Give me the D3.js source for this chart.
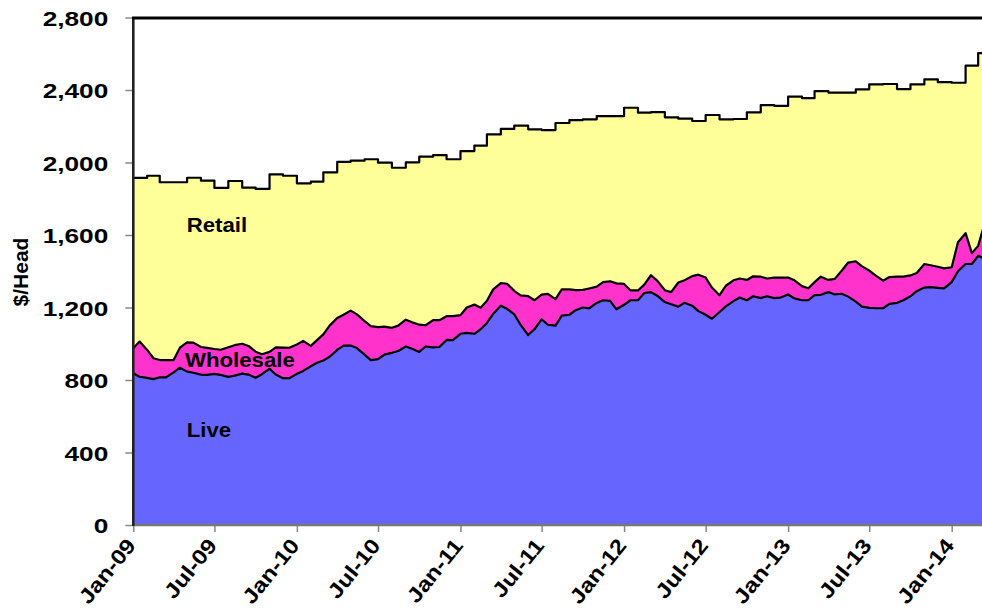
<!DOCTYPE html>
<html>
<head>
<meta charset="utf-8">
<script src="https://cdn.jsdelivr.net/npm/d3@7"></script>
<style>
  body { margin: 0; background: #ffffff; }
  svg { display: block; }
  text { font-family: "Liberation Sans", Arial, Helvetica, sans-serif; font-weight: bold; fill: #000; }
</style>
</head>
<body>
<svg id="chart" width="982" height="610"></svg>
<script>
// Beef value per head, $/head: live animal, wholesale and retail equivalents.
// Live and wholesale are sampled on the 1st and 15th of each month, Jan 2009 - Mar 2014.
const seriesNames = ["Retail", "Wholesale", "Live"];

const liveValues = [
  837, 818, 812, 805, 815, 815, 842, 868, 846, 840, 830, 828, 834, 828, 817, 824, 835, 830, 812, 832, 862, 830, 810, 810,
  834, 850, 876, 895, 908, 928, 966, 990, 990, 976, 940, 910, 915, 940, 950, 960, 985, 972, 955, 985, 980, 982, 1021, 1020,
  1055, 1060, 1055, 1080, 1115, 1165, 1210, 1193, 1162, 1105, 1048, 1080, 1135, 1105, 1100, 1155, 1160, 1185, 1200, 1195, 1225, 1240, 1237, 1190,
  1215, 1240, 1240, 1280, 1285, 1265, 1230, 1218, 1205, 1226, 1210, 1180, 1160, 1138, 1175, 1206, 1235, 1255, 1240, 1262, 1252, 1262, 1252, 1255,
  1272, 1250, 1240, 1240, 1268, 1270, 1285, 1272, 1276, 1260, 1232, 1205, 1198, 1196, 1196, 1220, 1226, 1240, 1262, 1290, 1310, 1312, 1308, 1305,
  1340, 1400, 1440, 1440, 1485, 1470
];

const wholesaleValues = [
  975, 1012, 966, 920, 910, 910, 910, 978, 1008, 1006, 982, 977, 971, 967, 981, 992, 1000, 988, 956, 942, 955, 980, 979, 978,
  996, 1016, 988, 1020, 1052, 1100, 1142, 1160, 1183, 1162, 1125, 1097, 1092, 1094, 1088, 1100, 1133, 1118, 1105, 1102, 1130, 1130, 1152, 1152,
  1158, 1200, 1216, 1199, 1237, 1300, 1335, 1331, 1292, 1267, 1263, 1240, 1271, 1275, 1246, 1300, 1300, 1296, 1297, 1305, 1315, 1340, 1345, 1333,
  1330, 1295, 1294, 1326, 1378, 1348, 1295, 1285, 1338, 1350, 1373, 1381, 1365, 1310, 1268, 1320, 1350, 1360, 1352, 1372, 1370, 1360, 1365, 1365,
  1365, 1350, 1318, 1306, 1340, 1370, 1352, 1358, 1404, 1448, 1455, 1427, 1404, 1377, 1348, 1368, 1370, 1370, 1377, 1390, 1440, 1433, 1425, 1416,
  1422, 1560, 1610, 1500, 1540, 1660
];

// Retail value is reported monthly (Jan 2009 - Mar 2014).
const retailMonthly = [
  1915, 1927, 1891, 1891, 1916, 1900, 1860, 1898, 1861, 1854, 1935, 1927,
  1885, 1894, 1946, 2004, 2010, 2018, 1999, 1971, 2001, 2032, 2041, 2018,
  2063, 2093, 2155, 2185, 2203, 2183, 2179, 2218, 2234, 2238, 2256, 2256,
  2302, 2275, 2278, 2249, 2242, 2229, 2262, 2238, 2240, 2277, 2317, 2312,
  2363, 2355, 2394, 2385, 2385, 2404, 2431, 2433, 2405, 2431, 2459, 2443,
  2440, 2534, 2604
];

const yTickValues = [0, 400, 800, 1200, 1600, 2000, 2400, 2800];
const xTickLabels = ["Jan-09", "Jul-09", "Jan-10", "Jul-10", "Jan-11", "Jul-11",
                     "Jan-12", "Jul-12", "Jan-13", "Jul-13", "Jan-14"];

const colors = { Retail: "#ffff99", Wholesale: "#ff33cc", Live: "#6666ff" };

// Sample dates: 1st and 15th of each month
const sampleDates = [];
for (let i = 0; i < liveValues.length; i++) {
  const m = Math.floor(i / 2);
  sampleDates.push(new Date(2009, m, i % 2 === 0 ? 1 : 15));
}

const rows = sampleDates.map((d, i) => ({
  date: d,
  Live: liveValues[i],
  Wholesale: wholesaleValues[i],
  Retail: retailMonthly[Math.floor(i / 2)]
}));

const svg = d3.select("#chart");
const plotLeft = 133.3, plotTop = 17.5, plotBottom = 525, plotRight = 982;

const x = d3.scaleTime()
  .domain([new Date(2009, 0, 1), new Date(2014, 0, 1)])
  .range([plotLeft, 951.7]);
const y = d3.scaleLinear().domain([0, 2800]).range([plotBottom, plotTop]);

svg.append("defs").append("clipPath").attr("id", "plot-clip")
  .append("rect").attr("x", plotLeft).attr("y", plotTop - 2)
  .attr("width", plotRight - plotLeft).attr("height", plotBottom - plotTop + 2);

const plot = svg.append("g").attr("clip-path", "url(#plot-clip)");

// Overlaid areas: retail behind, then wholesale, then live in front
seriesNames.forEach(name => {
  const curve = name === "Retail" ? d3.curveStepAfter : d3.curveLinear;
  const area = d3.area().curve(curve)
    .x(d => x(d.date)).y0(y(0)).y1(d => y(d[name]));
  const line = d3.line().curve(curve)
    .x(d => x(d.date)).y(d => y(d[name]));
  plot.append("path").datum(rows)
    .attr("d", area).attr("fill", colors[name]);
  plot.append("path").datum(rows)
    .attr("d", line).attr("fill", "none")
    .attr("stroke", "#000").attr("stroke-width", 2.2)
    .attr("stroke-linejoin", "round");
});

// Y axis
const yAxis = svg.append("g").attr("transform", `translate(${plotLeft},0)`)
  .call(d3.axisLeft(y).tickValues(yTickValues).tickFormat(d3.format(","))
    .tickSize(8).tickSizeOuter(0));
yAxis.select(".domain").remove();
yAxis.selectAll(".tick line").attr("stroke", "#888").attr("stroke-width", 1.5);
yAxis.selectAll(".tick text")
  .attr("x", -25 / 1.25).attr("dy", "0.38em")
  .attr("transform", "scale(1.25,1)")
  .style("font-size", "21px");

// X axis
const parseTick = d3.timeParse("%b-%y");
const xAxis = svg.append("g").attr("transform", `translate(0,${plotBottom})`)
  .call(d3.axisBottom(x).tickValues(xTickLabels.map(parseTick))
    .tickFormat(d3.timeFormat("%b-%y")).tickSize(7).tickSizeOuter(0));
xAxis.select(".domain").remove();
xAxis.selectAll(".tick line").attr("stroke", "#888").attr("stroke-width", 1.5);
xAxis.selectAll(".tick text")
  .attr("x", 0).attr("y", 0).attr("dy", 0)
  .attr("text-anchor", "end")
  .attr("transform", "translate(3,21) rotate(-51) scale(1.15,1)")
  .style("font-size", "21px");

// Frame lines
svg.append("line").attr("x1", plotLeft).attr("x2", plotRight).attr("y1", plotBottom).attr("y2", plotBottom)
  .attr("stroke", "#777").attr("stroke-width", 2.5);
svg.append("line").attr("x1", plotLeft).attr("x2", plotLeft).attr("y1", plotTop).attr("y2", plotBottom + 1)
  .attr("stroke", "#222").attr("stroke-width", 2.6);
svg.append("line").attr("x1", plotLeft - 1.3).attr("x2", plotRight).attr("y1", 18).attr("y2", 18)
  .attr("stroke", "#000").attr("stroke-width", 3);

// Axis title
svg.append("text")
  .attr("transform", "translate(28,272) rotate(-90)")
  .attr("text-anchor", "middle")
  .style("font-size", "21px")
  .text("$/Head");

// Series labels
const labelPos = { Retail: [186.7, 232], Wholesale: [185, 367], Live: [186.7, 437] };
seriesNames.forEach(name => {
  svg.append("text")
    .attr("transform", `translate(${labelPos[name][0]},${labelPos[name][1]}) scale(1.14,1)`)
    .style("font-size", "19.5px")
    .text(name);
});
</script>
</body>
</html>
